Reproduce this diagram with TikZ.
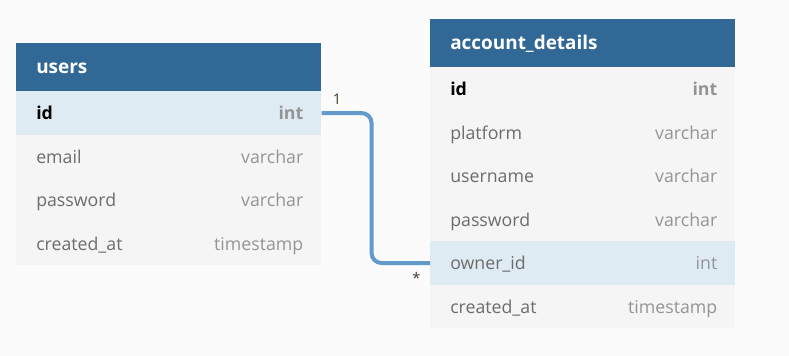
\documentclass[tikz,border=0pt]{standalone}
\usepackage{fontspec}
\setmainfont{Open Sans}
\usetikzlibrary{positioning}
\definecolor{HeadBlue}{RGB}{49,104,150}
\definecolor{KeyRow}{RGB}{222,235,243}
\definecolor{RowGray}{RGB}{245,245,245}
\definecolor{PageGray}{RGB}{251,251,251}
\definecolor{NameGray}{RGB}{108,108,108}
\definecolor{TypeGray}{RGB}{148,148,148}
\definecolor{LinkBlue}{RGB}{99,154,204}
\definecolor{CardGray}{RGB}{70,60,45}

\tikzset{
  thead/.style={fill=HeadBlue,minimum width=228.75pt,minimum height=36pt,
    inner sep=0pt,anchor=north west},
  ttitle/.style={text=white,font=\bfseries\fontsize{14.2}{16}\selectfont,
    inner sep=0pt,anchor=west,text height=1ex,text depth=0pt},
  row/.style={fill=RowGray,minimum width=228.75pt,minimum height=32.625pt,
    inner sep=0pt,anchor=north west},
  keyrow/.style={row,fill=KeyRow},
  fname/.style={text=NameGray,font=\fontsize{13.3}{15}\selectfont,
    inner sep=0pt,anchor=west,text height=1ex,text depth=0pt},
  ftype/.style={fname,text=TypeGray,anchor=east},
  pkname/.style={fname,text=black,font=\bfseries\fontsize{13.3}{15}\selectfont},
  pktype/.style={ftype,font=\bfseries\fontsize{13.3}{15}\selectfont},
  fkname/.style={fname},
  fktype/.style={ftype},
  link/.style={LinkBlue,line width=3pt,rounded corners=7.5pt},
  card/.style={text=CardGray,font=\fontsize{11}{12}\selectfont,inner sep=0pt}
}

\begin{document}
\begin{tikzpicture}[x=0.75pt,y=-0.75pt]
  \fill[PageGray] (0,0) rectangle (789,356);
  \useasboundingbox (0,0) rectangle (789,356);

  % users
  \node[thead] (users) at (16,43) {};
  \node[ttitle] (users-t) at ([xshift=15pt,yshift=-1.75pt]users.west) {users};
  \foreach \f/\t/\r/\k [count=\i] in {id/int/keyrow/pk,email/varchar/row/f,
      password/varchar/row/f,created\_at/timestamp/row/f}{
    \node[\r] (users-\i) at (16,{91+43.5*(\i-1)}) {};
    \node[\k name] at ([xshift=15pt,yshift=-2.25pt]users-\i.west) {\f};
    \node[\k type] at ([xshift=-13.5pt,yshift=-2.25pt]users-\i.east) {\t};
  }

  % account_details
  \node[thead] (acct) at (430,19) {};
  \node[ttitle] (acct-t) at ([xshift=15pt,yshift=-1.75pt]acct.west) {account\_details};
  \foreach \f/\t/\r/\k [count=\i] in {id/int/row/pk,platform/varchar/row/f,
      username/varchar/row/f,password/varchar/row/f,owner\_id/int/keyrow/fk,
      created\_at/timestamp/row/f}{
    \node[\r] (acct-\i) at (430,{67+43.5*(\i-1)}) {};
    \node[\k name] at ([xshift=15pt,yshift=-2.25pt]acct-\i.west) {\f};
    \node[\k type] at ([xshift=-13.5pt,yshift=-2.25pt]acct-\i.east) {\t};
  }

  % users.id -> account_details.owner_id
  \draw[link] (users-1.east) -- ++(50,0) |- (acct-5.west);
  \node[card,anchor=south west] (card-one) at ([xshift=8.25pt,yshift=6pt]users-1.east) {1};
  \node[card,anchor=base] (card-many) at ([xshift=-10.1pt,yshift=-15pt]acct-5.west) {*};
\end{tikzpicture}
\end{document}
